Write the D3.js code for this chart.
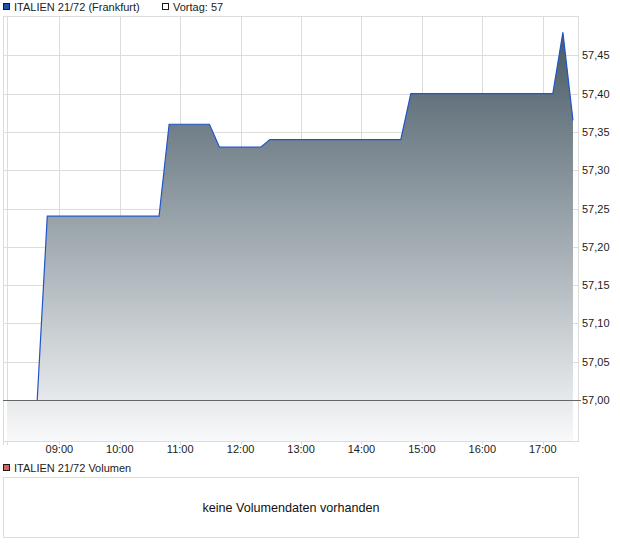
<!DOCTYPE html>
<html lang="de">
<head>
<meta charset="utf-8">
<script src="https://d3js.org/d3.v7.min.js"></script>
<style>
  body { margin: 0; background: #fff; }
  svg { display: block; font-family: "Liberation Sans", Arial, sans-serif; }
  .grid line { stroke: #dcdcdc; stroke-width: 1; shape-rendering: crispEdges; }
  .lbl { font-size: 11px; fill: #222; }
</style>
</head>
<body>
<svg id="chart" width="620" height="546"></svg>
<script>
// intraday quotes (Frankfurt)
var times  = ["08:08","08:38","08:48","10:39","10:49","11:29","11:39","12:20","12:29","14:39","14:49","17:10","17:20","17:30"];
var values = [57.00, 57.00, 57.24, 57.24, 57.36, 57.36, 57.33, 57.33, 57.34, 57.34, 57.40, 57.40, 57.48, 57.365];
var prevClose = 57;
var hourTicks = ["09:00","10:00","11:00","12:00","13:00","14:00","15:00","16:00","17:00"];
var priceTicks = [57.00, 57.05, 57.10, 57.15, 57.20, 57.25, 57.30, 57.35, 57.40, 57.45];
var seriesName = "ITALIEN 21/72 (Frankfurt)";
var prevLabel = "Vortag: 57";
var volName = "ITALIEN 21/72 Volumen";
var volMsg = "keine Volumendaten vorhanden";

var parse = d3.timeParse("%H:%M");
var data = times.map(function(t, i) { return { t: parse(t), v: values[i] }; });

var pLeft = 3, pRight = 578, pTop = 16, pBottom = 441;

var x = d3.scaleTime()
    .domain([parse("08:08"), parse("17:35")])
    .range([7, pRight]);
var y = d3.scaleLinear()
    .domain([56.9465, 57.5013])
    .range([pBottom, pTop]);

var svg = d3.select("#chart");
var fmt = function(v) { return d3.format(".2f")(v).replace(".", ","); };

var defs = svg.append("defs");
var grad = defs.append("linearGradient")
    .attr("id", "fillGrad")
    .attr("gradientUnits", "userSpaceOnUse")
    .attr("x1", 0).attr("x2", 0)
    .attr("y1", y(57.48)).attr("y2", pBottom);
grad.append("stop").attr("offset", 0).attr("stop-color", "#485a66");
grad.append("stop").attr("offset", 1).attr("stop-color", "#f8f9fa");

// grid
var grid = svg.append("g").attr("class", "grid");
grid.selectAll(".hy").data(priceTicks).enter().append("line")
    .attr("x1", pLeft).attr("x2", pRight)
    .attr("y1", function(d) { return Math.round(y(d)) + 0.5; })
    .attr("y2", function(d) { return Math.round(y(d)) + 0.5; });
grid.selectAll(".vx").data(hourTicks.map(parse).concat([x.domain()[0]])).enter().append("line")
    .attr("x1", function(d) { return Math.round(x(d)) + 0.5; })
    .attr("x2", function(d) { return Math.round(x(d)) + 0.5; })
    .attr("y1", pTop).attr("y2", pBottom + 4);
// frame
grid.append("line").attr("x1", pLeft + 0.5).attr("x2", pLeft + 0.5).attr("y1", pTop).attr("y2", pBottom + 4);
grid.append("line").attr("x1", pRight + 0.5).attr("x2", pRight + 0.5).attr("y1", pTop).attr("y2", pBottom + 0.5);
grid.append("line").attr("x1", pLeft).attr("x2", pRight).attr("y1", pTop + 0.5).attr("y2", pTop + 0.5);
grid.append("line").attr("x1", pLeft).attr("x2", pRight + 1).attr("y1", pBottom + 0.5).attr("y2", pBottom + 0.5);

// area + line
var area = d3.area()
    .x(function(d) { return x(d.t); })
    .y0(pBottom)
    .y1(function(d) { return y(d.v); });
svg.append("path").datum(data)
    .attr("d", area)
    .attr("fill", "url(#fillGrad)");

var line = d3.line()
    .x(function(d) { return x(d.t); })
    .y(function(d) { return y(d.v); });
svg.append("path").datum(data.slice(1))
    .attr("d", line)
    .attr("fill", "none")
    .attr("stroke", "#1f55c8")
    .attr("stroke-width", 1.2);

// previous close line
svg.append("line")
    .attr("x1", pLeft).attr("x2", pRight + 3)
    .attr("y1", Math.round(y(prevClose)) + 0.5).attr("y2", Math.round(y(prevClose)) + 0.5)
    .attr("stroke", "#666")
    .attr("stroke-width", 1);

// y labels
svg.selectAll(".yl").data(priceTicks).enter().append("text")
    .attr("class", "lbl")
    .attr("x", pRight + 4)
    .attr("y", function(d) { return y(d) + 4; })
    .text(fmt);

// x labels
svg.selectAll(".xl").data(hourTicks).enter().append("text")
    .attr("class", "lbl")
    .attr("text-anchor", "middle")
    .attr("x", function(d) { return x(parse(d)); })
    .attr("y", 453)
    .text(function(d) { return d; });

// legend
svg.append("rect").attr("x", 3.5).attr("y", 3.5).attr("width", 6).attr("height", 6)
    .attr("fill", "#1d50b0").attr("stroke", "#1a1a1a");
svg.append("text").attr("class", "lbl").attr("x", 14).attr("y", 11).text(seriesName);
svg.append("rect").attr("x", 162.5).attr("y", 3.5).attr("width", 6).attr("height", 6)
    .attr("fill", "#fff").attr("stroke", "#1a1a1a");
svg.append("text").attr("class", "lbl").attr("x", 173).attr("y", 11).text(prevLabel);

// volume panel
svg.append("rect").attr("x", 3.5).attr("y", 464.5).attr("width", 6).attr("height", 6)
    .attr("fill", "#d9645e").attr("stroke", "#1a1a1a");
svg.append("text").attr("class", "lbl").attr("x", 14).attr("y", 472).text(volName);
svg.append("rect").attr("x", pLeft + 0.5).attr("y", 477.5).attr("width", pRight - pLeft).attr("height", 60)
    .attr("fill", "#fff").attr("stroke", "#dcdcdc");
svg.append("text").attr("x", 291).attr("y", 512)
    .attr("text-anchor", "middle")
    .style("font-size", "12.6px").style("fill", "#111")
    .text(volMsg);
</script>
</body>
</html>
